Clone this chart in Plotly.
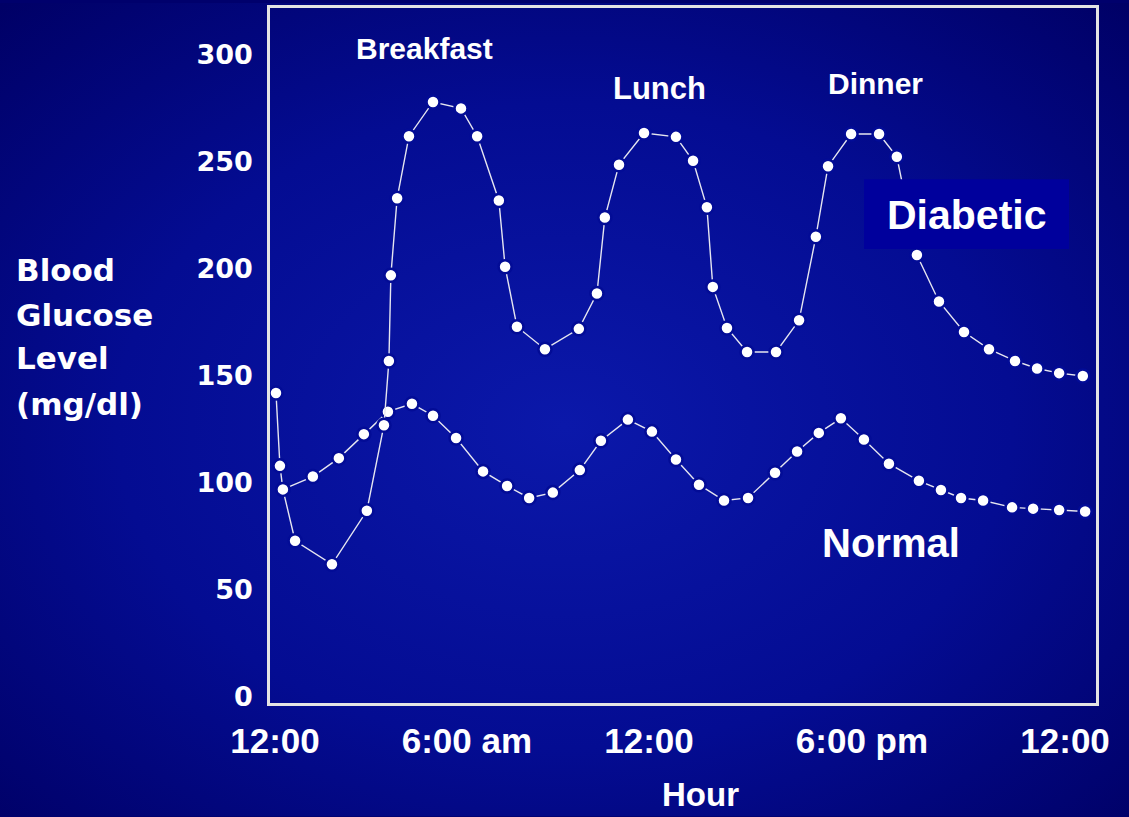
import base64
import plotly.graph_objects as go

# ---- data ----
diabetic_hour = [0.03, 0.15, 0.24, 0.61, 1.73, 2.79, 3.31, 3.46, 3.52, 3.71, 4.07, 4.80,
                 5.65, 6.14, 6.80, 6.99, 7.35, 8.20, 9.23, 9.78, 10.02, 10.45, 11.21, 12.18,
                 12.70, 13.12, 13.30, 13.73, 14.34, 15.22, 15.92, 16.43, 16.80, 17.50, 18.35,
                 18.89, 19.50, 20.17, 20.93, 21.69, 22.48, 23.15, 23.82, 24.54]
diabetic_glucose = [142, 108, 97, 73, 62, 87, 127, 157, 197, 233, 262, 278,
                    275, 262, 232, 201, 173, 162.5, 172, 188.5, 224, 248.7, 263.5, 261.7,
                    250.5, 228.8, 191.6, 172.4, 161.2, 161.2, 176, 215, 248, 263, 263,
                    252.4, 206.5, 184.8, 170.5, 162.5, 157, 153.5, 151.3, 150]

normal_hour = [0.24, 1.15, 1.94, 2.70, 3.43, 4.16, 4.80, 5.50, 6.32, 7.05, 7.72, 8.44,
               9.26, 9.90, 10.72, 11.45, 12.18, 12.88, 13.64, 14.37, 15.19, 15.86, 16.52,
               17.19, 17.89, 18.65, 19.56, 20.23, 20.84, 21.51, 22.39, 23.03, 23.82, 24.61]
normal_glucose = [97, 103, 111.6, 122.8, 133.3, 137, 131.4, 121, 105.4, 98.6, 93, 95.5,
                  106, 119.7, 129.6, 124, 111, 99.2, 91.8, 93, 104.8, 114.7, 123.4,
                  130.2, 120.3, 109, 101, 96.7, 93, 91.8, 88.6, 88, 87.4, 86.7]

x_tick_pos = [0, 5.83, 11.36, 17.83, 24.0]
x_tick_text = ["12:00", "6:00 am", "12:00", "6:00 pm", "12:00"]
y_tick_vals = [0, 50, 100, 150, 200, 250, 300]

# ---- layout geometry ----
W, H = 1129, 817
L, R, T, B = 270, 33, 5, 114
PW, PH = W - L - R, H - T - B


def px(xp):
    return (xp - L) / PW


def py(yp):
    return (H - B - yp) / PH


ARIAL = "Arial, 'Liberation Sans', sans-serif"
WIDE = "'DejaVu Sans', Verdana, sans-serif"

svg = (
    '<svg xmlns="http://www.w3.org/2000/svg" width="1129" height="817">'
    '<defs><radialGradient id="g" cx="50%" cy="52%" r="72%">'
    '<stop offset="0" stop-color="#0b18aa"/>'
    '<stop offset="0.55" stop-color="#040c92"/>'
    '<stop offset="1" stop-color="#000066"/>'
    '</radialGradient></defs>'
    '<rect width="1129" height="817" fill="url(#g)"/></svg>'
)
bg_uri = "data:image/svg+xml;base64," + base64.b64encode(svg.encode()).decode()

fig = go.Figure()

marker_style = dict(size=13, color="white", line=dict(width=2.5, color="#030c96"))
line_style = dict(color="#e6e6f0", width=1.4)

fig.add_trace(go.Scatter(x=normal_hour, y=normal_glucose, mode="lines+markers",
                         line=line_style, marker=marker_style, name="Normal",
                         showlegend=False))
fig.add_trace(go.Scatter(x=diabetic_hour, y=diabetic_glucose, mode="lines+markers",
                         line=line_style, marker=marker_style, name="Diabetic",
                         showlegend=False))

fig.update_layout(
    width=W, height=H,
    margin=dict(l=L, r=R, t=T, b=B, pad=0),
    paper_bgcolor="#00006c",
    plot_bgcolor="rgba(0,0,0,0)",
    showlegend=False,
    images=[dict(source=bg_uri, xref="paper", yref="paper",
                 x=px(0), y=py(0), sizex=W / PW, sizey=H / PH,
                 xanchor="left", yanchor="top", sizing="stretch", layer="below")],
    xaxis=dict(range=[-0.152, 24.94], tickvals=x_tick_pos, ticktext=x_tick_text,
               showgrid=False, zeroline=False, ticks="", showline=True, mirror=True,
               linecolor="#e4e4e4", linewidth=2.5, ticklabelstandoff=5,
               tickfont=dict(family=ARIAL, size=35, color="white", weight="bold")),
    yaxis=dict(range=[-2.8, 321.9], tickvals=y_tick_vals,
               showgrid=False, zeroline=False, ticks="", showline=True, mirror=True,
               linecolor="#e4e4e4", linewidth=2.5, ticklabelstandoff=9,
               tickfont=dict(family=WIDE, size=27, color="white", weight="bold")),
)

# Diabetic label box
fig.add_shape(type="rect", xref="paper", yref="paper",
              x0=px(864), x1=px(1069), y0=py(247), y1=py(177),
              fillcolor="#00009c", line=dict(width=0), layer="above")

texts = [
    ("Breakfast", 424, 46, 30),
    ("Lunch", 659, 86, 31),
    ("Dinner", 875, 81, 30),
    ("Diabetic", 967, 213, 41),
    ("Normal", 891, 542, 40),
    ("Hour", 700, 795, 33),
]
for t, xp, yp, fs in texts:
    fig.add_annotation(text=t, xref="paper", yref="paper", x=px(xp), y=py(yp),
                       xanchor="center", yanchor="middle", showarrow=False,
                       font=dict(family=ARIAL, size=fs, color="white", weight="bold"))

ytitle_lines = [("Blood", 268), ("Glucose", 313), ("Level", 357), ("(mg/dl)", 403)]
for t, yp in ytitle_lines:
    fig.add_annotation(text=t, xref="paper", yref="paper", x=px(14), y=py(yp),
                       xanchor="left", yanchor="middle", showarrow=False,
                       font=dict(family=WIDE, size=31, color="white", weight="bold"))

fig.write_html(
    "out.html",
    config={"displayModeBar": False},
    post_script="document.body.style.margin='0';document.body.style.background='#00006c';",
)
